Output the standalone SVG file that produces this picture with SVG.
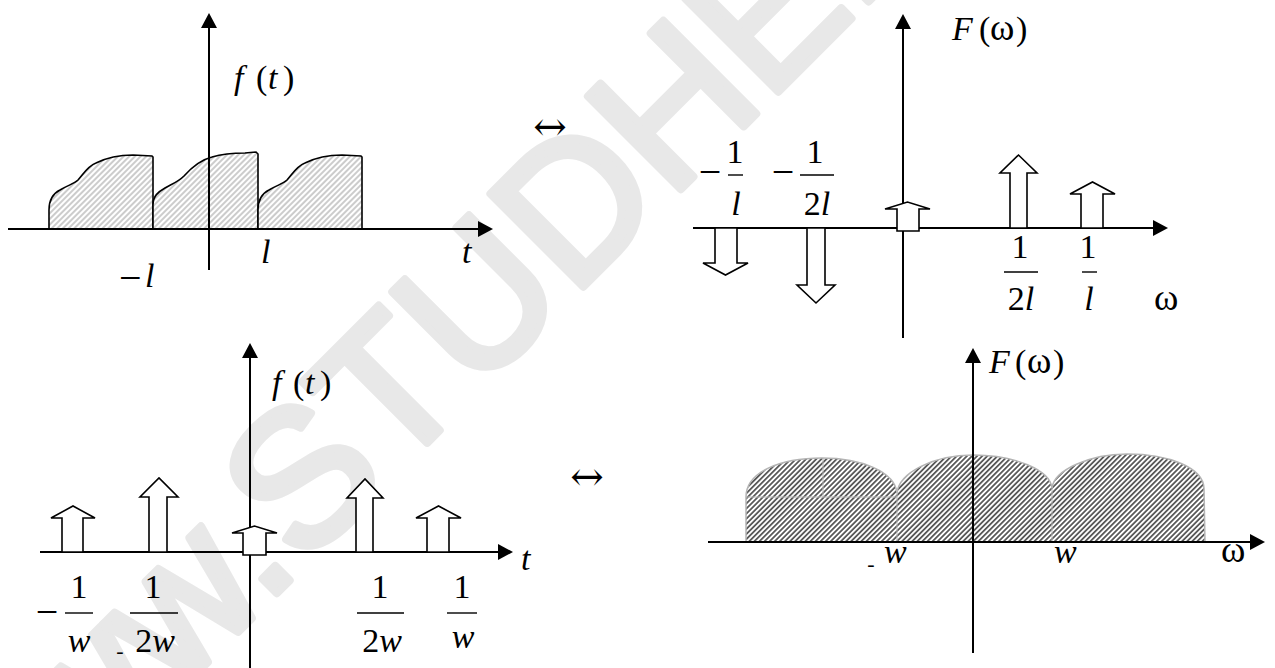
<svg xmlns="http://www.w3.org/2000/svg" width="1275" height="668" viewBox="0 0 1275 668">
<style>
.lbl{font-family:'Liberation Serif','DejaVu Serif',serif;font-size:34px;fill:#000}
.it{font-style:italic}
.om{font-size:37px}
.mn{font-family:'Liberation Serif','DejaVu Serif',serif;font-size:40px;fill:#000}
.eq{font-family:'DejaVu Serif','Liberation Serif',serif;font-size:40px;fill:#000}
.ax{stroke:#000;stroke-width:2;fill:none}
.bar{stroke:#000;stroke-width:1.4}
.blk{fill:#fff;stroke:#000;stroke-width:1.6;stroke-linejoin:miter}
.hump{fill:url(#hatchL);stroke:#000;stroke-width:1.6}
.wm{font-family:'Liberation Sans',Arial,sans-serif;font-size:191px;fill:#e8e8e8;stroke:#e8e8e8;stroke-width:8;stroke-linejoin:round}
</style>
<defs>
<marker id="ah" viewBox="0 0 15 16" refX="0" refY="8" markerWidth="15" markerHeight="16" markerUnits="userSpaceOnUse" orient="auto">
<path d="M0,0 L15,8 L0,16 Z" fill="#000"/>
</marker>
<pattern id="hatchL" patternUnits="userSpaceOnUse" width="4" height="4" patternTransform="rotate(45)">
<rect width="4" height="4" fill="#fff"/>
<line x1="2" y1="0" x2="2" y2="4" stroke="#9a9a9a" stroke-width="1"/>
</pattern>
<pattern id="hatchD" patternUnits="userSpaceOnUse" width="3.6" height="3.6" patternTransform="rotate(45)">
<rect width="3.6" height="3.6" fill="#fff"/>
<line x1="1.8" y1="0" x2="1.8" y2="3.6" stroke="#2a2a2a" stroke-width="1.4"/>
</pattern>
</defs>
<rect width="1275" height="668" fill="#fff"/>
<g id="watermark">
<text class="wm" transform="translate(77,793) rotate(-45)">ww.STUDHEL</text>
</g>

<g id="signal-humps">
<path class="hump" d="M49,229 L49,210 C49,200 52,194 60,190 C68,185 74,184 78,180 C84,173 88,166 96,163 C106,158 118,155 133,155 L152,156 L153,157 L153,229 Z"/>
<path class="hump" d="M153,229 L153,205 C153,196 158,192 165,188 C172,184 178,182 184,176 C192,167 200,160 212,157 C222,154 232,153 245,153 L256,152 L258,154 L258,229 Z"/>
<path class="hump" d="M258,229 L258,210 C258,200 261,194 269,190 C277,185 283,184 287,180 C293,173 297,166 305,163 C315,158 327,155 342,155 L361,156 L362,157 L362,229 Z"/>
</g>

<g id="spectrum-region">
<path d="M746,542 L746,497 C746,472 780,458 822,458 C862,458 895,472 897,493 C899,472 935,455 973,455 C1015,455 1050,470 1052,488 C1054,470 1090,454 1127,454 C1170,454 1203,468 1204,488 L1205,542 Z" fill="url(#hatchD)" stroke="#b4b4b4" stroke-width="1.5"/>
<g stroke="#b8b8b8" stroke-width="1" fill="none">
<line x1="897" y1="493" x2="897" y2="542"/>
<line x1="1052" y1="488" x2="1052" y2="542"/>
<line x1="746" y1="497" x2="897" y2="497"/>
<line x1="823" y1="458" x2="823" y2="497"/>
</g>
</g>

<g id="connectors">
<line class="ax" x1="209" y1="270" x2="209" y2="28" marker-end="url(#ah)"/>
<line class="ax" x1="8" y1="229" x2="478" y2="229" marker-end="url(#ah)"/>
<line class="ax" x1="903" y1="338" x2="903" y2="29" marker-end="url(#ah)"/>
<line class="ax" x1="693" y1="228" x2="1153" y2="228" marker-end="url(#ah)"/>
<line class="ax" x1="250" y1="668" x2="250" y2="358" marker-end="url(#ah)"/>
<line class="ax" x1="40" y1="552" x2="498" y2="552" marker-end="url(#ah)"/>
<line class="ax" x1="973" y1="653" x2="973" y2="363" marker-end="url(#ah)"/>
<line class="ax" x1="708" y1="542" x2="1250" y2="542" marker-end="url(#ah)"/>
</g>

<g id="impulses-top">
<polygon class="blk" points="715,228 715,263 703,263 725.5,275 748,263 737,263 737,228"/>
<polygon class="blk" points="807,228 807,285 797,285 816,303 835,285 825,285 825,228"/>
<polygon class="blk" points="897,231 897,209 885,209 907.5,202 930,209 919,209 919,231"/>
<polygon class="blk" points="1010,228 1010,173 1000,173 1018.5,155 1037,173 1027,173 1027,228"/>
<polygon class="blk" points="1081,228 1081,194 1070,194 1092.5,182 1115,194 1103,194 1103,228"/>
</g>

<g id="impulses-bottom">
<polygon class="blk" points="62,552 62,518 51,518 73,506 95,518 83,518 83,552"/>
<polygon class="blk" points="149,552 149,497 140,497 159,478 178,497 167,497 167,552"/>
<polygon class="blk" points="243,555 243,533 232,533 254.5,526 277,533 266,533 266,555"/>
<polygon class="blk" points="356,552 356,498 347,498 365,479 383,498 373,498 373,552"/>
<polygon class="blk" points="427,552 427,518 416,518 438.5,506 461,518 449,518 449,552"/>
</g>

<g id="labels-top-left">
<text class="lbl" y="89"><tspan x="234" class="it">f</tspan><tspan x="256">(</tspan><tspan x="268" class="it">t</tspan><tspan x="283">)</tspan></text>
<text class="lbl it" x="261" y="263">l</text>
<text class="mn" x="119" y="291">−</text>
<text class="lbl it" x="145" y="287">l</text>
<text class="lbl it" x="462" y="263">t</text>
</g>

<g id="equiv-top">
<text class="eq" x="550" y="140" text-anchor="middle">↔</text>
</g>

<g id="labels-top-right">
<text class="lbl" y="40"><tspan x="952" class="it">F</tspan><tspan x="979">(</tspan><tspan x="990" class="om">ω</tspan><tspan x="1016">)</tspan></text>
<text class="mn" x="710" y="185" text-anchor="middle">−</text>
<text class="lbl" x="735" y="163" text-anchor="middle">1</text>
<line class="bar" x1="728" y1="175" x2="743" y2="175"/>
<text class="lbl it" x="736" y="215" text-anchor="middle">l</text>
<text class="mn" x="783" y="185" text-anchor="middle">−</text>
<text class="lbl" x="815" y="163" text-anchor="middle">1</text>
<line class="bar" x1="800" y1="175" x2="834" y2="175"/>
<text class="lbl" x="817" y="215" text-anchor="middle">2<tspan class="it">l</tspan></text>
<text class="lbl" x="1020" y="258" text-anchor="middle">1</text>
<line class="bar" x1="1004" y1="272" x2="1038" y2="272"/>
<text class="lbl" x="1021" y="310" text-anchor="middle">2<tspan class="it">l</tspan></text>
<text class="lbl" x="1088" y="258" text-anchor="middle">1</text>
<line class="bar" x1="1082" y1="272" x2="1097" y2="272"/>
<text class="lbl it" x="1089" y="310" text-anchor="middle">l</text>
<text class="lbl om" x="1154" y="310">ω</text>
</g>

<g id="labels-bottom-left">
<text class="lbl" y="394"><tspan x="272" class="it">f</tspan><tspan x="293">(</tspan><tspan x="305" class="it">t</tspan><tspan x="320">)</tspan></text>
<text class="lbl it" x="521" y="570">t</text>
<text class="mn" x="47" y="625" text-anchor="middle">−</text>
<text class="lbl" x="79" y="598" text-anchor="middle">1</text>
<line class="bar" x1="65" y1="613" x2="93" y2="613"/>
<text class="lbl it" x="79" y="652" text-anchor="middle">w</text>
<text class="lbl" x="153" y="598" text-anchor="middle">1</text>
<line class="bar" x1="130" y1="613" x2="178" y2="613"/>
<text class="lbl" x="120" y="658" text-anchor="middle" style="font-size:22px">-</text>
<text class="lbl" x="155" y="652" text-anchor="middle">2<tspan class="it">w</tspan></text>
<text class="lbl" x="380" y="598" text-anchor="middle">1</text>
<line class="bar" x1="357" y1="613" x2="404" y2="613"/>
<text class="lbl" x="382" y="652" text-anchor="middle">2<tspan class="it">w</tspan></text>
<text class="lbl" x="462" y="598" text-anchor="middle">1</text>
<line class="bar" x1="447" y1="613" x2="477" y2="613"/>
<text class="lbl it" x="463" y="648" text-anchor="middle">w</text>
</g>

<g id="equiv-bottom">
<text class="eq" x="587" y="490" text-anchor="middle">↔</text>
</g>

<g id="labels-bottom-right">
<text class="lbl" y="373"><tspan x="989" class="it">F</tspan><tspan x="1015">(</tspan><tspan x="1027" class="om">ω</tspan><tspan x="1053">)</tspan></text>
<text class="lbl" x="871" y="571" text-anchor="middle" style="font-size:22px">-</text>
<text class="lbl it" x="884" y="563">w</text>
<text class="lbl it" x="1054" y="563">w</text>
<text class="lbl om" x="1221" y="562">ω</text>
</g>
</svg>
